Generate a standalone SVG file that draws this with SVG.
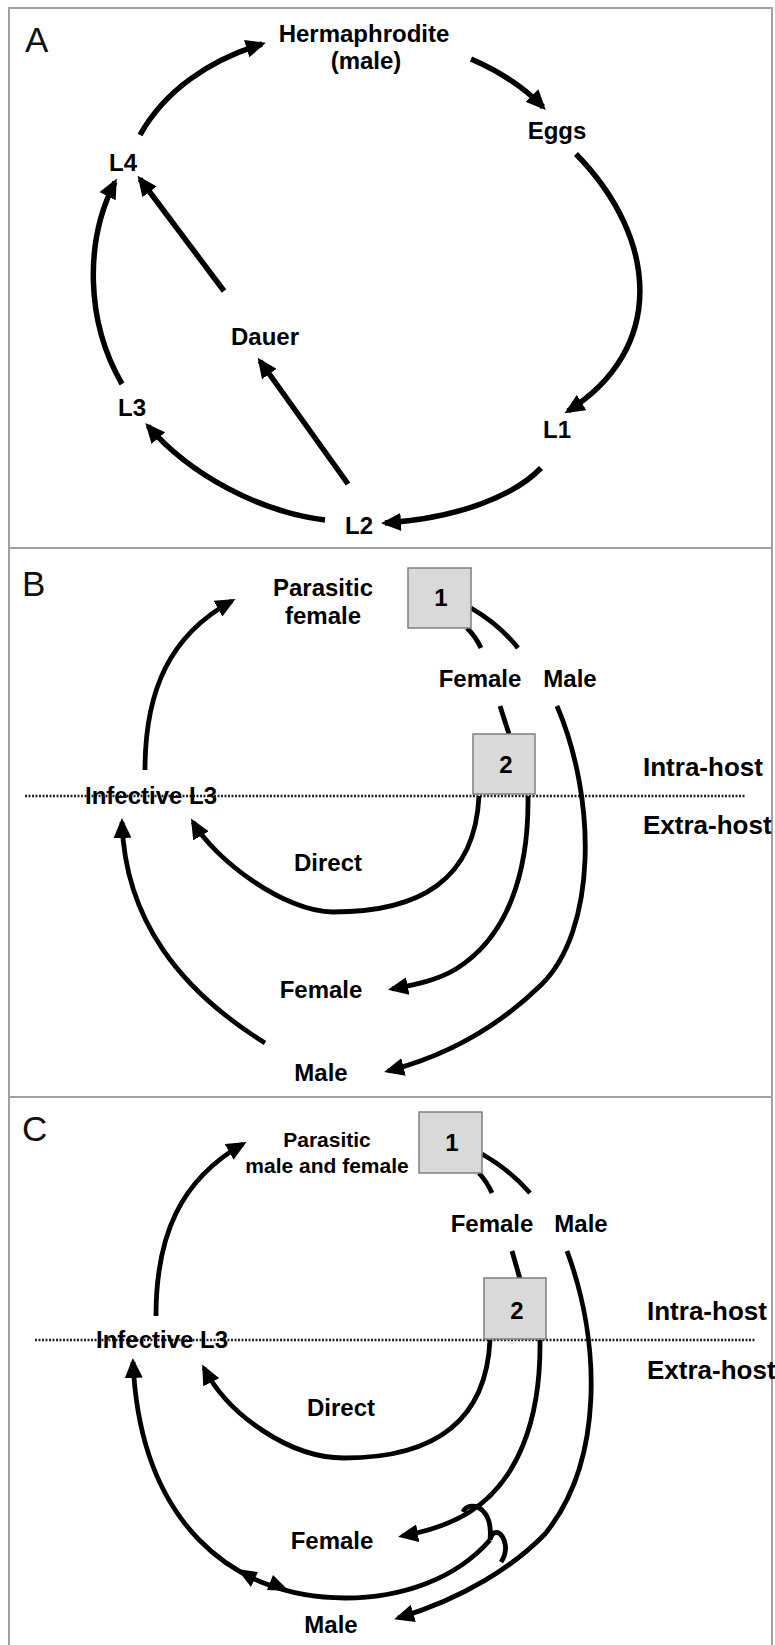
<svg xmlns="http://www.w3.org/2000/svg" width="775" height="1645" viewBox="0 0 775 1645">
<defs>
<style>
.t{font-family:"Liberation Sans",Arial,sans-serif;font-weight:bold;font-size:24px;fill:#000;text-anchor:middle}
.ts{font-size:21px}
.th{font-size:26px;text-anchor:start}
.p{font-family:"Liberation Sans",Arial,sans-serif;font-weight:normal;font-size:35px;fill:#111}
.c{fill:none;stroke:#000;stroke-width:5.5}
.cb{fill:none;stroke:#000;stroke-width:4.8}
.box{fill:#d9d9d9;stroke:#7f7f7f;stroke-width:1.5}
.dot{stroke:#222;stroke-width:2.5;stroke-dasharray:2 1.5;fill:none}
.frame{fill:none;stroke:#a0a0a0;stroke-width:2}
</style>
<marker id="ah" markerUnits="userSpaceOnUse" markerWidth="20" markerHeight="18" refX="16" refY="9" orient="auto">
<path d="M0,0 L20,9 L0,18 z" fill="#000"/>
</marker>
</defs>
<rect width="775" height="1645" fill="#fff"/>
<g id="frame">
<rect class="frame" x="9" y="8" width="763" height="1650"/>
<line class="frame" x1="9" y1="548" x2="772" y2="548"/>
<line class="frame" x1="9" y1="1097" x2="772" y2="1097"/>
</g>

<!-- Panel A -->
<g id="panelA-label"><text class="p" x="25" y="52">A</text></g>
<g id="connectorsA">
<path class="c" d="M140,135 C165,90 210,60 262,44" marker-end="url(#ah)"/>
<path class="c" d="M471,59 Q515,78 543,107" marker-end="url(#ah)"/>
<path class="c" d="M576,154 C660,240 665,350 568,411" marker-end="url(#ah)"/>
<path class="c" d="M541,468 C515,495 460,518 385,523" marker-end="url(#ah)"/>
<path class="c" d="M325,520 C260,512 190,475 148,426" marker-end="url(#ah)"/>
<path class="c" d="M122,384 C85,320 85,240 115,182" marker-end="url(#ah)"/>
<path class="c" d="M224,291 L140,179" marker-end="url(#ah)"/>
<path class="c" d="M348,484 L260,361" marker-end="url(#ah)"/>
</g>
<g id="A-herm"><text class="t" x="364" y="42">Hermaphrodite</text><text class="t" x="366" y="69">(male)</text></g>
<g id="A-eggs"><text class="t" x="557" y="139">Eggs</text></g>
<g id="A-L1"><text class="t" x="557" y="438">L1</text></g>
<g id="A-L2"><text class="t" x="359" y="534">L2</text></g>
<g id="A-L3"><text class="t" x="132" y="416">L3</text></g>
<g id="A-L4"><text class="t" x="123" y="171">L4</text></g>
<g id="A-dauer"><text class="t" x="265" y="345">Dauer</text></g>

<!-- Panel B -->
<g id="panelB-label"><text class="p" x="22" y="596">B</text></g>
<line class="dot" x1="25" y1="796" x2="745" y2="796"/>
<g id="connectorsB">
<path class="cb" d="M145,770 C145,690 170,635 232,601" marker-end="url(#ah)"/>
<path class="cb" d="M471,608 Q500,625 518,648"/>
<path class="cb" d="M467,628 Q476,637 481,648"/>
<path class="cb" d="M500,706 L509,734"/>
<path class="cb" d="M479,796 C475,880 420,912 333,912 C285,912 215,860 193,822" marker-end="url(#ah)"/>
<path class="cb" d="M528,796 C529,876 506,938 456,969 C436,981 413,985 392,989" marker-end="url(#ah)"/>
<path class="cb" d="M557,706 C597,800 597,930 541,985 C500,1025 450,1055 388,1071" marker-end="url(#ah)"/>
<path class="cb" d="M265,1043 C180,990 125,920 122,822" marker-end="url(#ah)"/>
</g>
<g id="B-parasitic"><text class="t" x="323" y="596">Parasitic</text><text class="t" x="323" y="624">female</text></g>
<g id="B-box1"><rect class="box" x="408" y="568" width="63" height="60"/><text class="t" x="441" y="606">1</text></g>
<g id="B-female-up"><text class="t" x="480" y="687">Female</text></g>
<g id="B-male-up"><text class="t" x="570" y="687">Male</text></g>
<g id="B-box2"><rect class="box" x="473" y="734" width="62" height="60"/><text class="t" x="506" y="773">2</text></g>
<g id="B-intra"><text class="t th" x="643" y="776">Intra-host</text></g>
<g id="B-extra"><text class="t th" x="643" y="834">Extra-host</text></g>
<g id="B-infective"><text class="t" x="151" y="804">Infective L3</text></g>
<g id="B-direct"><text class="t" x="328" y="871">Direct</text></g>
<g id="B-female-low"><text class="t" x="321" y="998">Female</text></g>
<g id="B-male-low"><text class="t" x="321" y="1081">Male</text></g>

<!-- Panel C -->
<g id="panelC-label"><text class="p" x="22" y="1141">C</text></g>
<line class="dot" x1="35" y1="1340" x2="755" y2="1340"/>
<g id="connectorsC">
<path class="cb" d="M156,1316 C156,1236 180,1180 243,1144" marker-end="url(#ah)"/>
<path class="cb" d="M482,1154 Q510,1170 530,1193"/>
<path class="cb" d="M479,1173 Q487,1182 492,1193"/>
<path class="cb" d="M512,1251 L520,1279"/>
<path class="cb" d="M490,1340 C486,1424 431,1458 344,1458 C290,1458 228,1415 204,1368" marker-end="url(#ah)"/>
<path class="cb" d="M540,1340 C541,1420 518,1482 468,1513 C448,1525 425,1532 402,1536" marker-end="url(#ah)"/>
<path class="cb" d="M567,1251 C600,1340 605,1460 545,1534 C515,1565 465,1598 398,1618" marker-end="url(#ah)"/>
<path class="cb" d="M490,1540 C455,1580 400,1598 345,1598 C230,1598 140,1520 133,1362" marker-end="url(#ah)"/>
<path class="cb" d="M463,1512 C466,1505 476,1504 482,1510 C490,1517 491,1530 490,1540 C492,1530 500,1530 504,1540 C507,1548 505,1556 501,1562"/>
<polygon points="237,1569 258,1572 251,1587" fill="#000"/>
<polygon points="289,1591 267,1590 273,1575" fill="#000"/>
</g>
<g id="C-parasitic"><text class="t ts" x="327" y="1147">Parasitic</text><text class="t ts" x="327" y="1173">male and female</text></g>
<g id="C-box1"><rect class="box" x="419" y="1112" width="63" height="61"/><text class="t" x="452" y="1151">1</text></g>
<g id="C-female-up"><text class="t" x="492" y="1232">Female</text></g>
<g id="C-male-up"><text class="t" x="581" y="1232">Male</text></g>
<g id="C-box2"><rect class="box" x="484" y="1278" width="62" height="61"/><text class="t" x="517" y="1319">2</text></g>
<g id="C-intra"><text class="t th" x="647" y="1320">Intra-host</text></g>
<g id="C-extra"><text class="t th" x="647" y="1379">Extra-host</text></g>
<g id="C-infective"><text class="t" x="162" y="1348">Infective L3</text></g>
<g id="C-direct"><text class="t" x="341" y="1416">Direct</text></g>
<g id="C-female-low"><text class="t" x="332" y="1549">Female</text></g>
<g id="C-male-low"><text class="t" x="331" y="1633">Male</text></g>
</svg>
